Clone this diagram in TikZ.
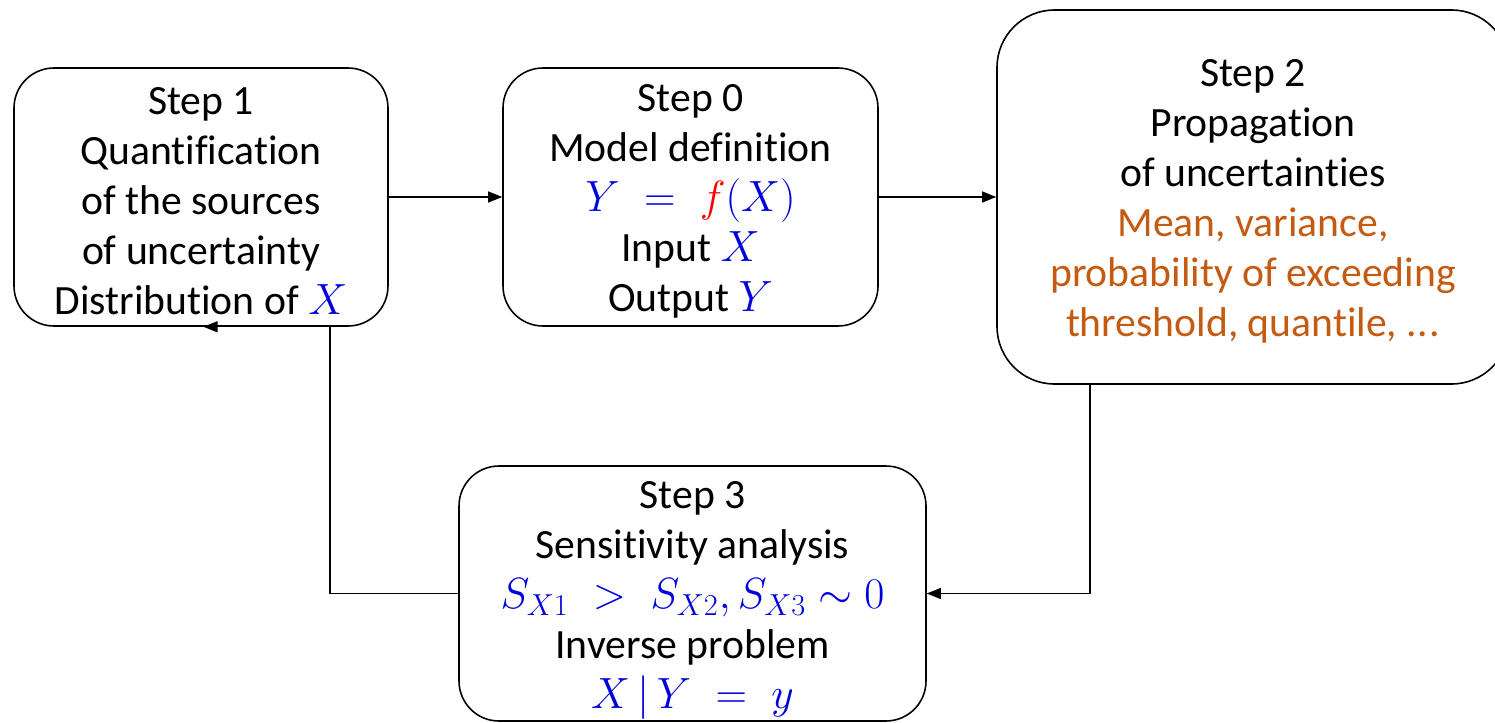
\documentclass[tikz,border=0pt]{standalone}
\usepackage{fontspec}
\setmainfont[Ligatures=NoCommon]{Carlito}
\usepackage{xcolor}
\usepackage{tikz}
\usetikzlibrary{calc,arrows.meta,positioning}
\definecolor{ink}{HTML}{000000}
\definecolor{mathblue}{HTML}{0000DD}
\definecolor{fred}{HTML}{FF0000}
\definecolor{result}{HTML}{C55A11}
\tikzset{
  stepbox/.style={draw=ink, line width=0.9pt, rounded corners=0.8cm, align=center,
    inner sep=0pt, font=\fontsize{23.7}{28.45}\selectfont, text=ink},
  conn/.style={draw=ink, line width=0.6pt, -{Triangle[length=0.28cm, width=0.22cm]}},
}
\newcommand{\mb}[1]{\textcolor{mathblue}{$#1$}}
\newcommand{\topgap}{\rule{0pt}{0.72cm}}
\begin{document}
\begin{tikzpicture}
\useasboundingbox (0,0) rectangle (29.9,-14.46);
\node[stepbox, minimum width=7.48cm, minimum height=5.16cm] (step1) at (4.02,-3.94)
  {\topgap Step 1\\Quantification\\of the sources\\of uncertainty\\Distribution of \mb{X}};
\node[stepbox, minimum width=7.5cm, minimum height=5.16cm] (step0) at (13.81,-3.94)
  {\topgap Step 0\\Model definition\\\textcolor{mathblue}{$Y\;=\;\textcolor{fred}{f}(X)$}\\Input \mb{X}\\Output \mb{Y}};
\node[stepbox, rounded corners=1.15cm, minimum width=10.24cm, minimum height=7.48cm] (step2) at (25.06,-3.94)
  {\topgap Step 2\\Propagation\\of uncertainties\\\textcolor{result}{Mean, variance,}\\\textcolor{result}{probability of exceeding}\\\textcolor{result}{threshold, quantile, .\kern0.5pt.\kern0.5pt.}};
\node[stepbox, minimum width=9.34cm, minimum height=5.1cm] (step3) at (13.85,-11.87)
  {\rule{0pt}{0.82cm}Step 3\\Sensitivity analysis\\\mb{S_{X1}\;>\;S_{X2}, S_{X3}\sim 0}\\Inverse problem\\\mb{X\,|\,Y\;=\;y}};
% loop connectors
\coordinate (drop) at ([xshift=-3.26cm]step2.south);
\coordinate (turn) at ([xshift=2.58cm]step1.south);
\coordinate (back) at ([xshift=0.05cm]step1.south);
\draw[conn] (step1.east) -- (step0.west);
\draw[conn] (step0.east) -- (step2.west);
\draw[conn] (drop) |- (step3.east);
\draw[conn] (step3.west) -| (turn) -- (back);
\end{tikzpicture}
\end{document}
